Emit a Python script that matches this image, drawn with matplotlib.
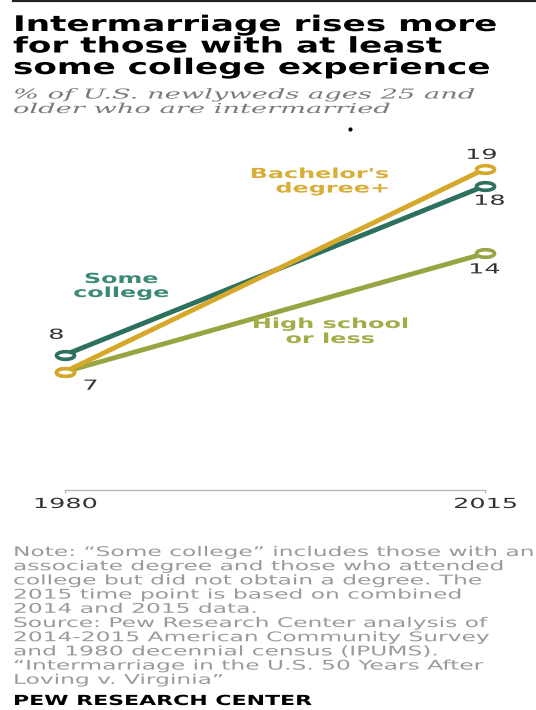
import numpy as np
import matplotlib
matplotlib.use("Agg")
import matplotlib.pyplot as plt
from matplotlib.path import Path
from matplotlib.lines import Line2D
from matplotlib.patheffects import AbstractPathEffect
from matplotlib.transforms import Affine2D

# ---------------- data ----------------
years = [1980, 2015]
year_labels = ["1980", "2015"]
series_names = ["High school\nor less", "Some\ncollege", "Bachelor's\ndegree+"]
high_school = [7, 14]
some_college = [8, 18]
bachelors = [7, 19]

title_lines = ["Intermarriage rises more",
               "for those with at least",
               "some college experience"]
subtitle_lines = ["% of U.S. newlyweds ages 25 and",
                  "older who are intermarried"]
note_lines = ["Note: \u201cSome college\u201d includes those with an",
              "associate degree and those who attended",
              "college but did not obtain a degree. The",
              "2015 time point is based on combined",
              "2014 and 2015 data.",
              "Source: Pew Research Center analysis of",
              "2014-2015 American Community Survey",
              "and 1980 decennial census (IPUMS).",
              "\u201cIntermarriage in the U.S. 50 Years After",
              "Loving v. Virginia\u201d"]
brand = "PEW RESEARCH CENTER"

# ---------------- style ----------------
W, H = 536, 710
GOLD = "#d5a82a"
TEAL = "#2d705f"
OLIVE = "#98a441"
GOLD_T = "#d9ae38"
TEAL_T = "#3b8a78"
OLIVE_T = "#a2ad4a"
DARK = "#333333"


class HStretch(AbstractPathEffect):
    """Draw the text stretched horizontally about an anchor."""
    def __init__(self, sx, anchor="left"):
        super().__init__()
        self.sx = sx
        self.anchor = anchor

    def draw_path(self, renderer, gc, tpath, affine, rgbFace=None):
        v = tpath.vertices
        if len(v) == 0:
            return
        if self.anchor == "left":
            a = 0.0
        elif self.anchor == "right":
            a = v[:, 0].max()
        else:
            a = 0.5 * (v[:, 0].min() + v[:, 0].max())
        tr = Affine2D().translate(-a, 0).scale(self.sx, 1).translate(a, 0) + affine
        renderer.draw_path(gc, tpath, tr, rgbFace)


fig = plt.figure(figsize=(W / 100, H / 100), dpi=100)
fig.patch.set_facecolor("white")
renderer = fig.canvas.get_renderer()


def fx(px):
    return px / W


def fy(py):
    return 1 - py / H


def stretch_factor(text_obj, target_w):
    w = text_obj.get_window_extent(renderer).width
    return target_w / w


def text_block(x, baselines, lines, ref_idx, target_w, ha="left", **kw):
    objs = [fig.text(fx(x), fy(b), s, ha=ha, va="baseline", **kw)
            for s, b in zip(lines, baselines)]
    sx = stretch_factor(objs[ref_idx], target_w)
    for o in objs:
        o.set_path_effects([HStretch(sx, ha)])
    return objs


# top rule
fig.add_artist(Line2D([fx(13), 1], [fy(1), fy(1)], color="#222222", lw=1.6,
                      transform=fig.transFigure))

# title
text_block(13, [31, 52.5, 74], title_lines, 0, 484, fontsize=15.5,
           fontweight="bold", color="black", family="DejaVu Sans")
# subtitle
text_block(13, [98.5, 113], subtitle_lines, 0, 464, fontsize=9.8,
           style="italic", color="#7a7a7a", family="DejaVu Serif")
# stray dot
fig.add_artist(Line2D([fx(350)], [fy(129)], marker="o", ms=2, color="black",
                      lw=0, transform=fig.transFigure))

# ---------------- axes ----------------
ax = fig.add_axes([fx(65), fy(490), fx(485) - fx(65), (490 - 152) / H])
ax.set_xlim(years[0], years[-1])
ax.set_ylim(0, 20)
for s in ["top", "right", "left"]:
    ax.spines[s].set_visible(False)
ax.spines["bottom"].set_color("#b5b5b5")
ax.spines["bottom"].set_linewidth(0.9)
ax.set_yticks([])
ax.set_xticks(years)
ax.set_xticklabels([])
ax.tick_params(axis="x", length=2.5, width=0.9, color="#b5b5b5")
ax.patch.set_alpha(0)

th = np.linspace(0, 2 * np.pi, 64)
ell = Path(np.c_[np.cos(th), 0.42 * np.sin(th)], closed=True)

for vals, col in [(high_school, OLIVE), (some_college, TEAL), (bachelors, GOLD)]:
    ax.plot(years, vals, color=col, lw=3.5, marker=ell, ms=13, mew=2.6,
            mfc="white", mec=col, clip_on=False, solid_capstyle="butt")

# year labels
ylabs = []
for yr, lab in zip(years, year_labels):
    ylabs.append(ax.annotate(lab, (yr, 0), xytext=(0, -18), textcoords="offset pixels",
                             ha="center", va="baseline", fontsize=10, color=DARK,
                             annotation_clip=False))
num_sx = stretch_factor(ylabs[0], 65)
for t in ylabs:
    t.set_path_effects([HStretch(num_sx, "center")])

# value labels (pixel offsets from each point)
val_specs = [(bachelors, 1, -4, 10), (some_college, 1, 4, -19),
             (high_school, 1, -1, -20), (some_college, 0, -9, 16),
             (bachelors, 0, 25, -18)]
for arr, i, dx, dy in val_specs:
    t = ax.annotate(str(arr[i]), (years[i], arr[i]), xytext=(dx, dy),
                    textcoords="offset pixels", ha="center", va="baseline",
                    fontsize=10, color=DARK, annotation_clip=False)
    t.set_path_effects([HStretch(num_sx, "center")])

# series labels
bl = series_names[2].split("\n")
text_block(389, [178, 192.5], bl, 0, 140, ha="right", fontsize=10,
           fontweight="bold", color=GOLD_T)
sl = series_names[1].split("\n")
text_block(121, [283, 297], sl, 1, 96, ha="center", fontsize=10,
           fontweight="bold", color=TEAL_T)
hl = series_names[0].split("\n")
text_block(330, [328, 343], hl, 0, 157, ha="center", fontsize=10,
           fontweight="bold", color=OLIVE_T)

# notes
text_block(13, [556 + 14.2 * i for i in range(len(note_lines))], note_lines, 1, 495,
           fontsize=9.6, color="#9a9a9a", family="DejaVu Sans")
text_block(13, [705], [brand], 0, 300, fontsize=10, fontweight="bold",
           color="black", family="DejaVu Sans")

fig.savefig("out.png", dpi=100, facecolor="white")
